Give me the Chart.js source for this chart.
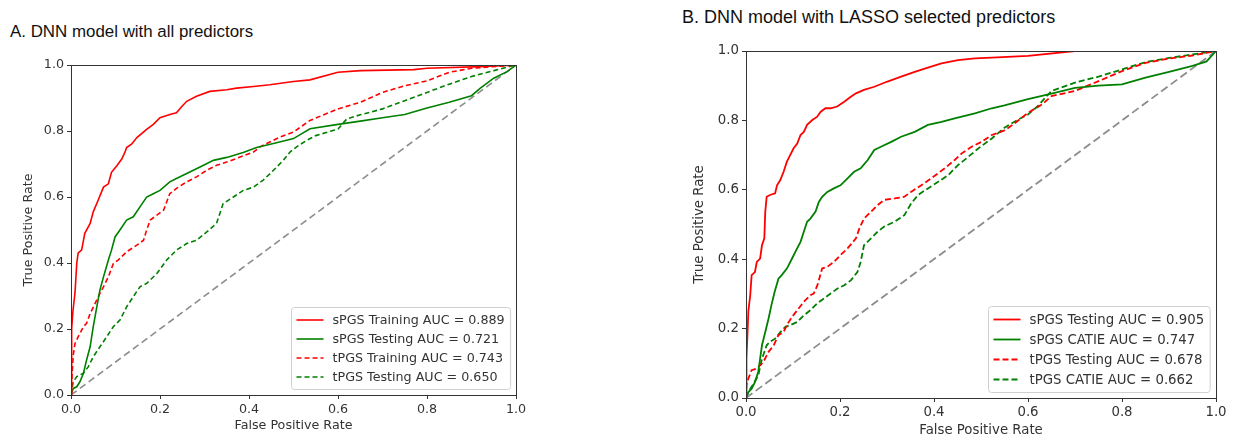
<!DOCTYPE html>
<html>
<head>
<meta charset="utf-8">
<script src="https://cdn.jsdelivr.net/npm/chart.js@4.4.1/dist/chart.umd.min.js"></script>
<style>
  body { margin: 0; background: #fff; }
  #wrap { position: relative; width: 1240px; height: 443px; overflow: hidden; }
  canvas { position: absolute; top: 0; }
  .ttl { position: absolute; font-family: "Liberation Sans", Arial, sans-serif; color: #111; white-space: nowrap; line-height: 1; }
</style>
</head>
<body>
<div id="wrap">
  <div class="ttl" id="tA" style="left:10px; top:24px; font-size:16.9px;">A. DNN model with all predictors</div>
  <div class="ttl" id="tB" style="left:682px; top:8px; font-size:18px;">B. DNN model with LASSO selected predictors</div>
  <canvas id="cA" width="620" height="443" style="left:0"></canvas>
  <canvas id="cB" width="620" height="443" style="left:620px"></canvas>
</div>
<script>
// tick labels, both axes, both panels
const tickValues = [0, 0.2, 0.4, 0.6, 0.8, 1.0];
const diagX = [0, 1];
const diagY = [0, 1];

// Panel A - all predictors
const labelsA = ['sPGS Training AUC = 0.889', 'sPGS Testing AUC = 0.721', 'tPGS Training AUC = 0.743', 'tPGS Testing AUC = 0.650'];
const fprA_sTrain = [0, 0.001, 0.002, 0.004, 0.009, 0.013, 0.016, 0.024, 0.031, 0.043, 0.05, 0.061, 0.073, 0.084, 0.091, 0.103, 0.114, 0.121, 0.125, 0.136, 0.148, 0.17, 0.185, 0.2, 0.222, 0.237, 0.249, 0.26, 0.282, 0.312, 0.35, 0.372, 0.41, 0.447, 0.5, 0.537, 0.6, 0.65, 0.77, 0.8, 0.92, 1.0];
const tprA_sTrain = [0, 0.12, 0.2, 0.25, 0.31, 0.40, 0.43, 0.44, 0.49, 0.52, 0.555, 0.59, 0.63, 0.64, 0.675, 0.695, 0.715, 0.735, 0.75, 0.76, 0.78, 0.805, 0.82, 0.84, 0.85, 0.855, 0.874, 0.89, 0.905, 0.92, 0.925, 0.93, 0.935, 0.94, 0.95, 0.955, 0.978, 0.983, 0.986, 0.99, 0.995, 1.0];
const fprA_sTest = [0, 0.005, 0.013, 0.02, 0.028, 0.035, 0.043, 0.05, 0.058, 0.065, 0.073, 0.084, 0.091, 0.099, 0.11, 0.125, 0.14, 0.155, 0.17, 0.185, 0.2, 0.222, 0.237, 0.26, 0.29, 0.32, 0.35, 0.387, 0.417, 0.455, 0.5, 0.537, 0.6, 0.65, 0.7, 0.75, 0.8, 0.85, 0.9, 0.92, 0.95, 0.98, 1.0];
const tprA_sTest = [0, 0.02, 0.025, 0.04, 0.066, 0.106, 0.146, 0.207, 0.267, 0.318, 0.358, 0.409, 0.439, 0.479, 0.5, 0.53, 0.54, 0.57, 0.6, 0.61, 0.62, 0.646, 0.656, 0.671, 0.691, 0.711, 0.72, 0.735, 0.75, 0.762, 0.777, 0.807, 0.82, 0.83, 0.84, 0.85, 0.87, 0.887, 0.907, 0.93, 0.96, 0.98, 1.0];
const fprA_tTrain = [0, 0.002, 0.005, 0.009, 0.016, 0.028, 0.035, 0.043, 0.054, 0.065, 0.073, 0.084, 0.095, 0.106, 0.125, 0.148, 0.163, 0.17, 0.178, 0.193, 0.208, 0.222, 0.237, 0.26, 0.282, 0.305, 0.327, 0.35, 0.38, 0.41, 0.425, 0.44, 0.47, 0.5, 0.537, 0.6, 0.65, 0.7, 0.75, 0.8, 0.85, 0.9, 1.0];
const tprA_tTrain = [0, 0.05, 0.12, 0.156, 0.176, 0.207, 0.217, 0.247, 0.277, 0.308, 0.328, 0.358, 0.398, 0.409, 0.434, 0.454, 0.469, 0.5, 0.53, 0.545, 0.56, 0.61, 0.626, 0.646, 0.661, 0.681, 0.696, 0.706, 0.721, 0.736, 0.752, 0.762, 0.782, 0.797, 0.832, 0.867, 0.887, 0.917, 0.937, 0.952, 0.978, 0.99, 1.0];
const fprA_tTest = [0, 0.005, 0.013, 0.028, 0.039, 0.05, 0.065, 0.08, 0.095, 0.11, 0.125, 0.14, 0.155, 0.17, 0.193, 0.215, 0.237, 0.26, 0.282, 0.305, 0.327, 0.342, 0.365, 0.387, 0.41, 0.432, 0.455, 0.477, 0.492, 0.507, 0.53, 0.55, 0.6, 0.62, 0.65, 0.7, 0.75, 0.8, 0.85, 0.9, 0.95, 1.0];
const tprA_tTest = [0, 0.04, 0.056, 0.066, 0.086, 0.116, 0.146, 0.176, 0.207, 0.227, 0.267, 0.298, 0.328, 0.338, 0.368, 0.409, 0.439, 0.459, 0.469, 0.494, 0.52, 0.58, 0.6, 0.62, 0.63, 0.651, 0.681, 0.711, 0.736, 0.752, 0.772, 0.786, 0.806, 0.837, 0.849, 0.867, 0.892, 0.917, 0.942, 0.965, 0.983, 1.0];

// Panel B - LASSO selected predictors
const labelsB = ['sPGS Testing AUC = 0.905', 'sPGS CATIE AUC = 0.747', 'tPGS Testing AUC = 0.678', 'tPGS CATIE AUC = 0.662'];
const fprB_sTest = [0, 0.001, 0.003, 0.005, 0.009, 0.012, 0.019, 0.023, 0.03, 0.034, 0.039, 0.041, 0.044, 0.051, 0.062, 0.066, 0.073, 0.08, 0.087, 0.094, 0.101, 0.109, 0.116, 0.123, 0.13, 0.141, 0.151, 0.159, 0.169, 0.18, 0.194, 0.209, 0.223, 0.234, 0.251, 0.273, 0.301, 0.33, 0.359, 0.387, 0.416, 0.451, 0.487, 0.523, 0.6, 0.7, 1.0];
const tprB_sTest = [0, 0.113, 0.18, 0.25, 0.296, 0.354, 0.363, 0.392, 0.402, 0.44, 0.46, 0.537, 0.58, 0.585, 0.59, 0.613, 0.628, 0.652, 0.681, 0.7, 0.719, 0.733, 0.758, 0.767, 0.787, 0.801, 0.81, 0.825, 0.835, 0.835, 0.84, 0.854, 0.868, 0.878, 0.888, 0.897, 0.912, 0.926, 0.94, 0.952, 0.964, 0.974, 0.979, 0.981, 0.986, 1.0, 1.0];
const fprB_sCatie = [0, 0.005, 0.012, 0.019, 0.026, 0.03, 0.034, 0.041, 0.048, 0.054, 0.061, 0.069, 0.076, 0.087, 0.098, 0.105, 0.116, 0.123, 0.13, 0.137, 0.148, 0.155, 0.162, 0.173, 0.187, 0.201, 0.216, 0.23, 0.244, 0.259, 0.273, 0.287, 0.309, 0.33, 0.359, 0.387, 0.416, 0.444, 0.487, 0.523, 0.55, 0.6, 0.65, 0.7, 0.75, 0.8, 0.85, 0.9, 0.95, 0.98, 1.0];
const tprB_sCatie = [0, 0.017, 0.027, 0.046, 0.075, 0.113, 0.152, 0.19, 0.229, 0.267, 0.306, 0.344, 0.354, 0.373, 0.402, 0.421, 0.45, 0.479, 0.508, 0.517, 0.537, 0.565, 0.58, 0.594, 0.604, 0.613, 0.633, 0.652, 0.662, 0.686, 0.715, 0.724, 0.738, 0.753, 0.767, 0.787, 0.796, 0.806, 0.82, 0.835, 0.843, 0.861, 0.877, 0.894, 0.9, 0.904, 0.923, 0.94, 0.957, 0.97, 1.0];
const fprB_tTest = [0, 0.001, 0.005, 0.012, 0.023, 0.03, 0.037, 0.048, 0.059, 0.069, 0.08, 0.087, 0.098, 0.112, 0.123, 0.137, 0.144, 0.152, 0.162, 0.173, 0.187, 0.201, 0.216, 0.234, 0.241, 0.251, 0.266, 0.28, 0.294, 0.316, 0.337, 0.351, 0.373, 0.394, 0.409, 0.423, 0.444, 0.459, 0.48, 0.501, 0.523, 0.55, 0.57, 0.6, 0.63, 0.65, 0.7, 0.75, 0.8, 0.85, 0.9, 0.95, 1.0];
const tprB_tTest = [0, 0.037, 0.056, 0.08, 0.085, 0.094, 0.104, 0.133, 0.152, 0.181, 0.19, 0.21, 0.234, 0.258, 0.277, 0.296, 0.301, 0.325, 0.373, 0.378, 0.392, 0.412, 0.431, 0.46, 0.488, 0.517, 0.537, 0.556, 0.571, 0.575, 0.58, 0.594, 0.613, 0.633, 0.648, 0.662, 0.686, 0.705, 0.724, 0.738, 0.758, 0.771, 0.79, 0.822, 0.846, 0.87, 0.885, 0.913, 0.942, 0.966, 0.978, 0.987, 1.0];
const fprB_tCatie = [0, 0.005, 0.016, 0.026, 0.034, 0.044, 0.051, 0.062, 0.073, 0.084, 0.094, 0.109, 0.123, 0.137, 0.151, 0.166, 0.18, 0.194, 0.209, 0.223, 0.237, 0.244, 0.251, 0.266, 0.28, 0.294, 0.316, 0.337, 0.351, 0.366, 0.387, 0.409, 0.43, 0.451, 0.473, 0.494, 0.523, 0.55, 0.58, 0.6, 0.62, 0.65, 0.7, 0.75, 0.8, 0.85, 0.9, 0.95, 1.0];
const tprB_tCatie = [0, 0.017, 0.041, 0.065, 0.113, 0.152, 0.162, 0.171, 0.19, 0.205, 0.21, 0.219, 0.238, 0.253, 0.272, 0.287, 0.301, 0.315, 0.325, 0.339, 0.363, 0.392, 0.44, 0.46, 0.479, 0.494, 0.508, 0.527, 0.56, 0.585, 0.604, 0.623, 0.642, 0.671, 0.695, 0.719, 0.748, 0.779, 0.803, 0.817, 0.84, 0.885, 0.909, 0.926, 0.947, 0.968, 0.98, 0.99, 1.0];

const pts = (xs, ys) => xs.map((x, i) => ({ x: x, y: ys[i] }));

// spines on all four sides, like matplotlib
const framePlugin = {
  id: 'frame',
  afterDatasetsDraw(chart) {
    const a = chart.chartArea, ctx = chart.ctx;
    ctx.save();
    ctx.strokeStyle = '#333';
    ctx.lineWidth = 1;
    ctx.strokeRect(Math.round(a.left) + 0.5, Math.round(a.top) + 0.5, Math.round(a.right - a.left), Math.round(a.bottom - a.top));
    ctx.restore();
  }
};

// legend box in the lower right corner of the plot area
const boxLegend = {
  id: 'boxLegend',
  afterDraw(chart, args, opts) {
    const ctx = chart.ctx, a = chart.chartArea;
    const items = chart.data.datasets.filter(d => d.label);
    ctx.save();
    ctx.font = opts.font;
    const textW = Math.max(...items.map(d => ctx.measureText(d.label).width));
    const w = 5 + opts.lineLen + 9 + textW + 6;
    const h = items.length * opts.rowH + 6;
    const x0 = Math.round(a.right - opts.margin - w) + 0.5;
    const y0 = Math.round(a.bottom - opts.margin - h) + 0.5;
    ctx.fillStyle = 'rgba(255,255,255,0.85)';
    ctx.strokeStyle = '#d0d0d0';
    ctx.lineWidth = 1;
    ctx.beginPath();
    ctx.roundRect(x0, y0, w, h, 3);
    ctx.fill();
    ctx.stroke();
    items.forEach((d, i) => {
      const y = y0 + 3 + opts.rowH * (i + 0.5);
      ctx.strokeStyle = d.borderColor;
      ctx.lineWidth = d.borderWidth;
      ctx.setLineDash(d.borderDash || []);
      ctx.beginPath();
      ctx.moveTo(x0 + 5, y);
      ctx.lineTo(x0 + 5 + opts.lineLen, y);
      ctx.stroke();
      ctx.setLineDash([]);
      ctx.fillStyle = '#333';
      ctx.textBaseline = 'middle';
      ctx.fillText(d.label, x0 + 5 + opts.lineLen + 9, y + 1);
    });
    ctx.restore();
  }
};

function makeChart(id, series, labels, cfg) {
  const styles = [
    { color: '#ff0000', dash: [] },
    { color: '#008000', dash: [] },
    { color: '#ff0000', dash: cfg.dash },
    { color: '#008000', dash: cfg.dash }
  ];
  const datasets = series.map((s, i) => ({
    label: labels[i],
    data: pts(s[0], s[1]),
    borderColor: styles[i].color,
    borderDash: styles[i].dash,
    borderWidth: cfg.lw,
    showLine: true,
    pointRadius: 0,
    tension: 0
  }));
  datasets.push({
    label: '',
    data: pts(diagX, diagY),
    borderColor: '#8c8c8c',
    borderDash: cfg.diagDash,
    borderWidth: cfg.lw,
    showLine: true,
    pointRadius: 0
  });
  const font = { family: 'DejaVu Sans', size: cfg.fs };
  const axis = (title, isY) => ({
    type: 'linear',
    min: 0,
    max: 1,
    afterBuildTicks: s => { s.ticks = tickValues.map(v => ({ value: v })); },
    afterFit: s => { if (isY) s.width = cfg.yWidth; else s.height = cfg.xHeight; },
    ticks: { color: '#333', font: font, padding: 3, callback: v => Number(v).toFixed(1) },
    grid: { drawOnChartArea: false, drawTicks: true, tickLength: 4, color: '#333' },
    border: { display: true, color: '#333' },
    title: { display: true, text: title, color: '#333', font: font, padding: { top: 2, bottom: 2 } }
  });
  return new Chart(document.getElementById(id), {
    type: 'scatter',
    data: { datasets: datasets },
    options: {
      responsive: false,
      animation: false,
      devicePixelRatio: 1,
      layout: { padding: cfg.pad },
      plugins: {
        legend: { display: false },
        tooltip: { enabled: false },
        boxLegend: { font: cfg.fs + 'px "DejaVu Sans"', lineLen: cfg.lineLen, rowH: cfg.rowH, margin: 6 }
      },
      scales: {
        x: axis('False Positive Rate', false),
        y: axis('True Positive Rate', true)
      }
    },
    plugins: [framePlugin, boxLegend]
  });
}

makeChart('cA',
  [[fprA_sTrain, tprA_sTrain], [fprA_sTest, tprA_sTest], [fprA_tTrain, tprA_tTrain], [fprA_tTest, tprA_tTest]],
  labelsA,
  { lw: 1.6, dash: [5, 3], diagDash: [7, 4], fs: 12.7, lineLen: 27, rowH: 19,
    yWidth: 52, xHeight: 40, pad: { left: 19, top: 65, right: 104, bottom: 8 } });

makeChart('cB',
  [[fprB_sTest, tprB_sTest], [fprB_sCatie, tprB_sCatie], [fprB_tTest, tprB_tTest], [fprB_tCatie, tprB_tCatie]],
  labelsB,
  { lw: 1.8, dash: [6, 3], diagDash: [8, 4], fs: 13.3, lineLen: 27, rowH: 20,
    yWidth: 56, xHeight: 43, pad: { left: 70, top: 51, right: 24, bottom: 2 } });
</script>
</body>
</html>
